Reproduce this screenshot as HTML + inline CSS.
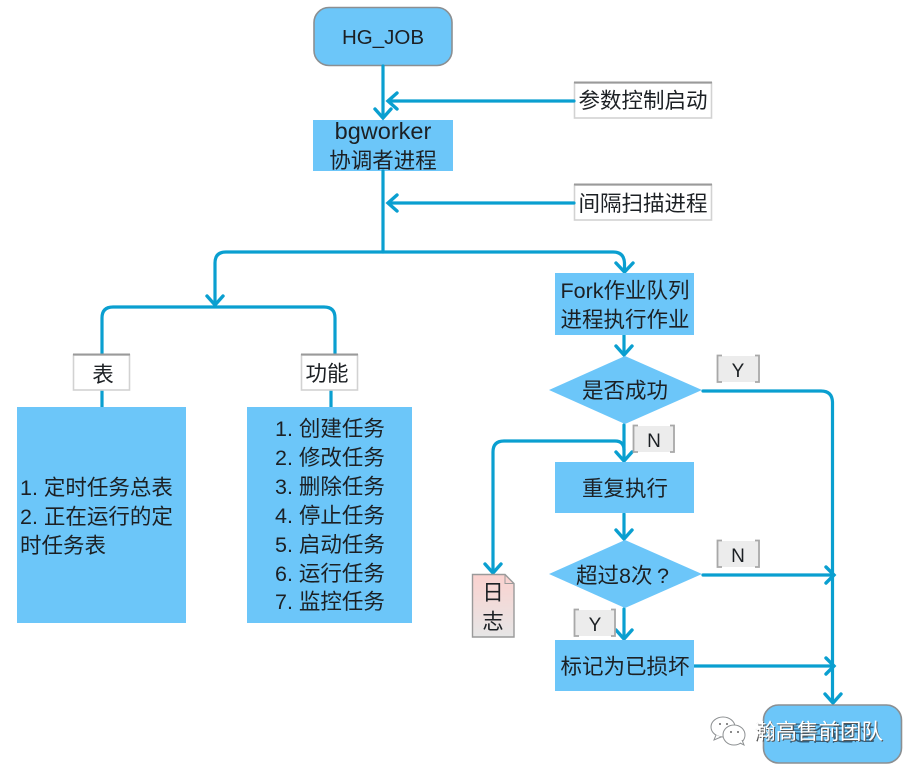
<!DOCTYPE html>
<html>
<head>
<meta charset="utf-8">
<style>
html,body{margin:0;padding:0;background:#fff;width:913px;height:772px;overflow:hidden}
svg{display:block;filter:blur(0.35px)}
text{font-family:"Liberation Sans","Noto Sans CJK SC",sans-serif;font-size:21.5px;fill:#1c2024}
.m{text-anchor:middle}
.l{fill:none;stroke:#0a9fd0;stroke-width:3.2;stroke-linejoin:round;stroke-linecap:round}
.a{fill:none;stroke:#0a9fd0;stroke-width:3.4;stroke-linecap:round;stroke-linejoin:miter}
.b{fill:#6cc6f9}
.t{fill:#6cc6f9;stroke:#8b8f92;stroke-width:1.6}
.w{fill:#fff;stroke:#d2d2d2;stroke-width:1.6}
.top{stroke:#9a9a9a;stroke-width:2;fill:none}
.br{fill:none;stroke:#a8a8a8;stroke-width:1.8}
</style>
</head>
<body>
<svg width="913" height="772" viewBox="0 0 913 772" xmlns="http://www.w3.org/2000/svg">
<rect class="t" x="314" y="7.500" width="138" height="58" rx="15"/>
<rect class="b" x="313" y="120" width="140" height="51"/>
<rect class="w" x="574.500" y="83" width="137" height="35"/>
<line class="top" x1="574" y1="82.500" x2="712" y2="82.500"/>
<rect class="w" x="574.500" y="185" width="137" height="35"/>
<line class="top" x1="574" y1="184.500" x2="712" y2="184.500"/>

<!-- connectors -->
<path class="l" d="M383 66V117M574 101H389M383 171V252M574 203H389"/>
<path class="a" d="M375 109L383 118L391 109M397 93L388 101L397 109M397 195L388 203L397 211"/>
<path class="l" d="M383 252H226Q215 252 215 263V304M383 252H613Q624 252 624.500 263V271"/>
<path class="a" d="M207 296L215 305L223 296M616 263L624.500 272L633 263"/>
<path class="l" d="M215 307H113Q102 307 102 318V354M215 307H324Q335 307 335 318V354M102 390V407M331 390V407"/>
<path class="l" d="M624 335V354M624 425V461M624 514V538M624 609V638"/>
<path class="a" d="M616 346L624 355L632 346M616 452L624 461L632 452M616 530L624 539L632 530M616 630L624 639L632 630"/>
<path class="l" d="M703 391H821Q832 391 832.500 402V702"/>
<path class="a" d="M825 694L833 703L841 694"/>
<path class="l" d="M624 450Q624 441 615 441H504Q493 441 493 452V572"/>
<path class="a" d="M485 564L493 573L501 564"/>
<path class="l" d="M703 575H833M694 666H833"/>
<path class="a" d="M826 567L834 575L826 583M826 658L834 666L826 674"/>

<!-- shapes -->
<rect class="w" x="73.500" y="355" width="56" height="35"/>
<line class="top" x1="73" y1="354.500" x2="130" y2="354.500"/>
<rect class="w" x="301.500" y="355" width="56" height="35"/>
<line class="top" x1="301" y1="354.500" x2="358" y2="354.500"/>
<rect class="b" x="17" y="407" width="169" height="216"/>
<rect class="b" x="247" y="407" width="165" height="216"/>
<rect class="b" x="555" y="273" width="139" height="62"/>
<polygon class="b" points="549,390 625,356 702,390 625,424"/>
<rect class="b" x="555" y="462" width="139" height="51"/>
<polygon class="b" points="549,574 625,540 702,574 625,608"/>
<rect class="b" x="555" y="640" width="139" height="51"/>
<rect class="t" x="763.500" y="705" width="138" height="58" rx="15"/>

<!-- log doc -->
<defs><linearGradient id="g" x1="0" y1="0" x2="0" y2="1"><stop offset="0" stop-color="#fbd2cf"/><stop offset="1" stop-color="#e6e6e6"/></linearGradient></defs>
<path d="M472.500 574.500H505L514 583.500V637H472.500Z" fill="url(#g)" stroke="#9a9a9a" stroke-width="1.4"/>
<path d="M505 574.500V583.500H514" fill="none" stroke="#9a9a9a" stroke-width="1"/>

<!-- Y/N labels -->
<g>
<rect x="718" y="356" width="40" height="26" fill="#ececec"/>
<path class="br" d="M722 355.500H717.500V382H722M755 355.500H759V382H755"/>
<rect x="634" y="426" width="40" height="26" fill="#ececec"/>
<path class="br" d="M638 425.500H633.500V452H638M670 425.500H674V452H670"/>
<rect x="718" y="541" width="40" height="26" fill="#ececec"/>
<path class="br" d="M722 540.500H717.500V567H722M755 540.500H759V567H755"/>
<rect x="575" y="610" width="40" height="26" fill="#ececec"/>
<path class="br" d="M579 609.500H574.500V636H579M611 609.500H615V636H611"/>
</g>

<!-- text -->
<text class="m" x="383" y="44" style="font-size:20.500px">HG_JOB</text>
<text class="m" x="383" y="139" style="font-size:23.500px">bgworker</text>
<text class="m" x="383" y="168">协调者进程</text>
<text class="m" x="643" y="108">参数控制启动</text>
<text class="m" x="643" y="211">间隔扫描进程</text>
<text class="m" x="103" y="382">表</text>
<text class="m" x="327" y="381">功能</text>

<text x="20" y="495">1. 定时任务总表</text>
<text x="20" y="524">2. 正在运行的定</text>
<text x="20" y="553">时任务表</text>

<text x="275" y="436">1. 创建任务</text>
<text x="275" y="465">2. 修改任务</text>
<text x="275" y="494">3. 删除任务</text>
<text x="275" y="523">4. 停止任务</text>
<text x="275" y="552">5. 启动任务</text>
<text x="275" y="581">6. 运行任务</text>
<text x="275" y="609">7. 监控任务</text>

<text class="m" x="625" y="298">Fork作业队列</text>
<text class="m" x="625" y="327">进程执行作业</text>
<text class="m" x="625" y="398">是否成功</text>
<text class="m" x="625" y="496">重复执行</text>
<text x="576" y="583">超过8次</text>
<text x="657" y="583">?</text>
<text class="m" x="625" y="674">标记为已损坏</text>

<text class="m" x="738" y="377" style="font-size:19px">Y</text>
<text class="m" x="654" y="447" style="font-size:19px">N</text>
<text class="m" x="738" y="562" style="font-size:19px">N</text>
<text class="m" x="595" y="631" style="font-size:19px">Y</text>
<text class="m" x="493" y="600">日</text>
<text class="m" x="493" y="629">志</text>

<text class="m" x="832" y="741" style="fill:#2f5f7f">是否超过</text>

<!-- watermark -->
<g fill="#fff" stroke="#8e9193" stroke-width="1">
<ellipse cx="723" cy="727" rx="12" ry="10"/>
<path d="M716 735L714 740L721 737" />
<ellipse cx="734" cy="735" rx="11" ry="10"/>
<path d="M740 743L744 745L742 740"/>
</g>
<g fill="#666"><circle cx="720" cy="724" r="1"/><circle cx="727" cy="724" r="1"/><circle cx="731" cy="732" r="1"/><circle cx="738" cy="732" r="1"/></g>
<text x="754" y="739" style="fill:#555;font-size:21.500px" dx="1" dy="1">瀚高售前团队</text>
<text x="754" y="739" style="fill:#fff;font-size:21.500px">瀚高售前团队</text>
</svg>
</body>
</html>
